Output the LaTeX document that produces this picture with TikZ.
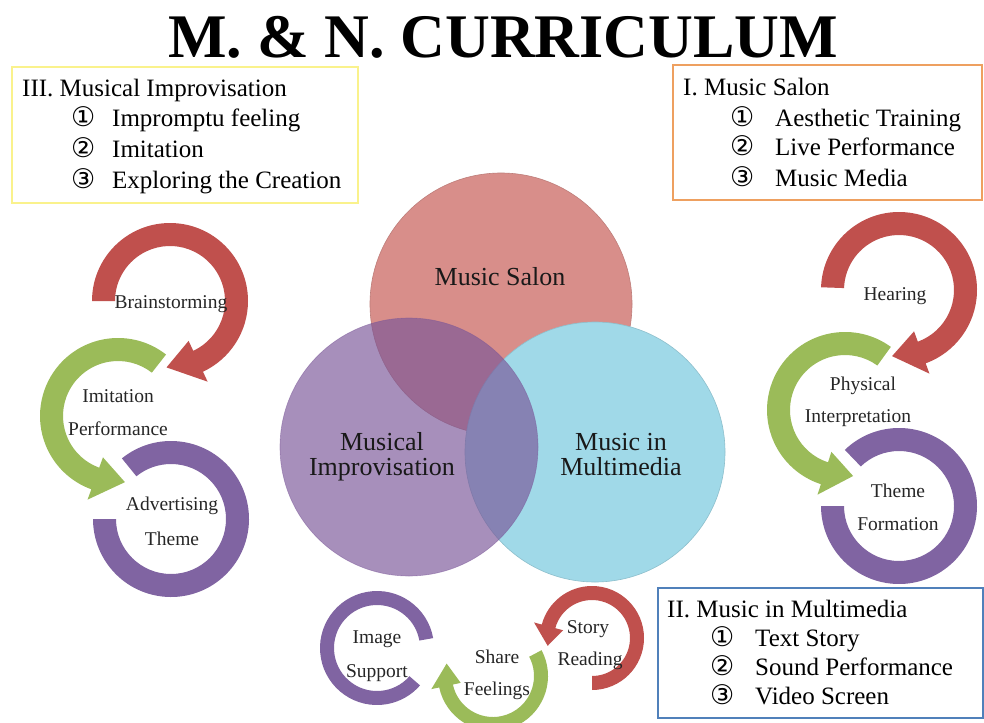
\documentclass[tikz,border=0pt]{standalone}
\usepackage{fontspec}
\setmainfont{Liberation Serif}
\newfontfamily\circfont{DejaVu Sans}

\definecolor{ringred}{RGB}{192,80,77}
\definecolor{ringgreen}{RGB}{155,187,89}
\definecolor{ringpurple}{RGB}{128,100,162}
\definecolor{salonpink}{RGB}{216,142,138}
\definecolor{multicyan}{RGB}{160,217,232}
\definecolor{improvviolet}{RGB}{122,86,152}
\definecolor{boxyellow}{RGB}{250,242,140}
\definecolor{boxorange}{RGB}{238,160,96}
\definecolor{boxblue}{RGB}{80,128,186}

% curved arrow: centre, inner r, outer r, start angle, end angle, tip angle, barb overhang, colour
\newcommand{\ringarrow}[8]{%
  \begin{scope}[shift={#1}]
    \fill[#8] (#4:#3) arc[start angle=#4, end angle=#5, radius=#3]
      -- (#5:{#3+#7}) -- (#6:{(#2+#3)/2}) -- (#5:{#2-#7}) -- (#5:#2)
      arc[start angle=#5, end angle=#4, radius=#2] -- cycle;
  \end{scope}}
% open ring segment without a head: centre, inner r, outer r, start, end, colour
\newcommand{\ringband}[6]{%
  \begin{scope}[shift={#1}]
    \fill[#6] (#4:#3) arc[start angle=#4, end angle=#5, radius=#3]
      -- (#5:#2) arc[start angle=#5, end angle=#4, radius=#2] -- cycle;
  \end{scope}}

\begin{document}
\begin{tikzpicture}[x=1pt, y=1pt,
  boxframe/.style={draw=#1, line width=2.6pt, fill=white, inner sep=0, outer sep=0, anchor=north west},
  boxhead/.style={anchor=base west, inner sep=0, font=\fontsize{25}{30}\selectfont},
  boxnum/.style={anchor=base west, inner sep=0, font=\circfont\fontsize{27}{30}\selectfont},
  boxitem/.style={anchor=base west, inner sep=0, font=\fontsize{25}{30}\selectfont},
  venn/.style={circle, inner sep=0, outer sep=0, minimum size=#1},
  vennlabel/.style={anchor=base, inner sep=0, text=black!90, font=\fontsize{26}{26}\selectfont},
  ringlabel/.style={anchor=base, inner sep=0, text=black!85, font=\fontsize{19.5}{20}\selectfont},
]
\useasboundingbox (0,0) rectangle (984,-722);
\fill[white] (0,0) rectangle (984,-722);

% title
\node[anchor=base, inner sep=0, font=\fontsize{62}{62}\selectfont\bfseries] (title) at (503,-58) {M. \& N. CURRICULUM};

% three overlapping fields
\node[venn=262pt, fill=salonpink, draw=salonpink!88!black, line width=0.6pt] (salon) at (501,-304) {};
\node[venn=260pt, fill=multicyan, draw=multicyan!88!black, line width=0.6pt] (multi) at (595,-452) {};
\node[venn=258pt, fill=improvviolet, fill opacity=0.66, draw=improvviolet, draw opacity=0.5, line width=0.6pt] (improv) at (409,-447) {};

\node[vennlabel] (salonlbl) at (500,-285) {Music Salon};
\node[vennlabel] (improvlblA) at (382,-450) {Musical};
\node[vennlabel] (improvlblB) at (382,-475) {Improvisation};
\node[vennlabel] (multilblA) at (621,-450) {Music in};
\node[vennlabel] (multilblB) at (621,-475) {Multimedia};

% left cycle
\ringband{(171,-519)}{55}{78}{129}{-180}{ringpurple}
\ringarrow{(118,-416)}{55}{78}{52}{250}{276}{11}{ringgreen}
\ringarrow{(170,-301)}{55}{78}{180}{-65}{-93}{11}{ringred}
\node[ringlabel] (brainst) at (171,-308) {Brainstorming};
\node[ringlabel] (imitA) at (118,-402) {Imitation};
\node[ringlabel] (imitB) at (118,-435) {Performance};
\node[ringlabel] (advA) at (172,-510) {Advertising};
\node[ringlabel] (advB) at (172,-545) {Theme};

% right cycle
\ringband{(899,-506)}{55}{78}{134}{-180}{ringpurple}
\ringarrow{(845,-410)}{55}{78}{54}{252}{277}{11}{ringgreen}
\ringarrow{(899,-290)}{55}{78}{178}{-70}{-96}{11}{ringred}
\node[ringlabel] (hearing) at (895,-300) {Hearing};
\node[ringlabel] (physA) at (863,-390) {Physical};
\node[ringlabel] (physB) at (858,-422) {Interpretation};
\node[ringlabel] (themeA) at (898,-497) {Theme};
\node[ringlabel] (themeB) at (898,-530) {Formation};

% bottom cycle
\ringband{(377,-648)}{43}{57}{10}{319}{ringpurple}
\ringarrow{(493,-676)}{41}{55}{28}{-168}{-195}{8}{ringgreen}
\ringarrow{(592,-638)}{38}{52}{-90}{165}{190}{8}{ringred}
\node[ringlabel] (imageA) at (377,-643) {Image};
\node[ringlabel] (imageB) at (377,-677) {Support};
\node[ringlabel] (storyA) at (588,-633) {Story};
\node[ringlabel] (storyB) at (590,-665) {Reading};
\node[ringlabel] (shareA) at (497,-663) {Share};
\node[ringlabel] (shareB) at (497,-695) {Feelings};

% outline boxes
\node[boxframe=boxyellow, minimum width=346pt, minimum height=136pt] (boxIII) at (12,-67) {};
\node[boxhead] (headIII) at (22,-97) {III. Musical Improvisation};
\node[boxnum] (numIIIa) at (71,-127) {①};
\node[boxitem] (itemIIIa) at (112,-127) {Impromptu feeling};
\node[boxnum] (numIIIb) at (71,-157.5) {②};
\node[boxitem] (itemIIIb) at (112,-157.5) {Imitation};
\node[boxnum] (numIIIc) at (71,-188) {③};
\node[boxitem] (itemIIIc) at (112,-188) {Exploring the Creation};

\node[boxframe=boxorange, minimum width=309pt, minimum height=135pt] (boxI) at (673,-65) {};
\node[boxhead] (headI) at (683,-96) {I. Music Salon};
\node[boxnum] (numIa) at (730,-127) {①};
\node[boxitem] (itemIa) at (775,-127) {Aesthetic Training};
\node[boxnum] (numIb) at (730,-156) {②};
\node[boxitem] (itemIb) at (775,-156) {Live Performance};
\node[boxnum] (numIc) at (730,-186) {③};
\node[boxitem] (itemIc) at (775,-186) {Music Media};

\node[boxframe=boxblue, minimum width=325pt, minimum height=130pt] (boxII) at (658,-588) {};
\node[boxhead] (headII) at (667,-617) {II. Music in Multimedia};
\node[boxnum] (numIIa) at (710,-646) {①};
\node[boxitem] (itemIIa) at (755,-646) {Text Story};
\node[boxnum] (numIIb) at (710,-675) {②};
\node[boxitem] (itemIIb) at (755,-675) {Sound Performance};
\node[boxnum] (numIIc) at (710,-704) {③};
\node[boxitem] (itemIIc) at (755,-704) {Video Screen};
\end{tikzpicture}
\end{document}
